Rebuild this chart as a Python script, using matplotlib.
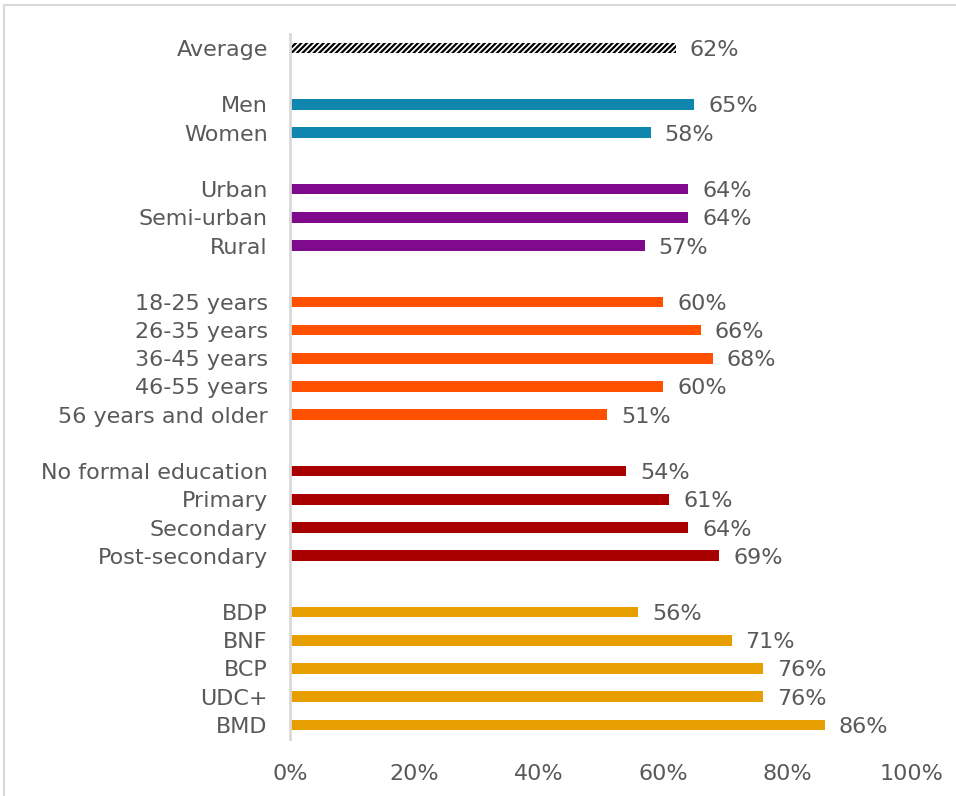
import numpy as np
import matplotlib.pyplot as plt
from matplotlib.patches import Rectangle

# values
labels = ["Average",
          "Men", "Women",
          "Urban", "Semi-urban", "Rural",
          "18-25 years", "26-35 years", "36-45 years", "46-55 years", "56 years and older",
          "No formal education", "Primary", "Secondary", "Post-secondary",
          "BDP", "BNF", "BCP", "UDC+", "BMD"]
values = [62,
          65, 58,
          64, 64, 57,
          60, 66, 68, 60, 51,
          54, 61, 64, 69,
          56, 71, 76, 76, 86]
group_sizes = [1, 2, 3, 5, 4, 5]
group_colors = ["white", "#0F86AD", "#800A8C", "#FF5000", "#A80000", "#E69E00"]
x_ticks = [0, 20, 40, 60, 80, 100]

TXT = "#595959"
FS = 16
plt.rcParams['hatch.linewidth'] = 1.6

fig = plt.figure(figsize=(9.56, 7.96), dpi=100)
ax = fig.add_axes([290 / 956, 1 - 739 / 796, 622 / 956, 705 / 796])

# slot positions: a blank row between groups
ypos, cols = [], []
slot = 0
for g, n in enumerate(group_sizes):
    for i in range(n):
        ypos.append(slot)
        cols.append(group_colors[g])
        slot += 1
    slot += 1
ypos = np.array(ypos)

for i, (y, v, c) in enumerate(zip(ypos, values, cols)):
    if i == 0:
        ax.barh(y, v, height=0.38, color="white", edgecolor="black", hatch="//////", linewidth=0)
    else:
        ax.barh(y, v, height=0.38, color=c, linewidth=0)
    ax.annotate(f"{v}%", (v, y), xytext=(14, -2), textcoords="offset pixels",
                ha="left", va="center", fontsize=FS, color=TXT)

ax.set_ylim(ypos[-1] + 0.5, -0.5)
ax.set_xlim(0, 100)
ax.set_yticks(ypos)
ax.set_yticklabels(labels, fontsize=FS, color=TXT)
ax.set_xticks(x_ticks)
ax.set_xticklabels([f"{t}%" for t in x_ticks], fontsize=FS, color=TXT)
ax.tick_params(length=0)
ax.tick_params(axis="y", pad=16)
ax.tick_params(axis="x", pad=18)
for s in ["top", "right", "bottom"]:
    ax.spines[s].set_visible(False)
ax.spines["left"].set_color("#d9d9d9")
ax.spines["left"].set_linewidth(2)

# light frame around the chart area
fig.patches.append(Rectangle((4 / 956, -0.01), 1.0, 1 - 5 / 796 + 0.01,
                             transform=fig.transFigure, fill=False,
                             edgecolor="#d9d9d9", linewidth=1.5))

fig.savefig("out.png", dpi=100)
